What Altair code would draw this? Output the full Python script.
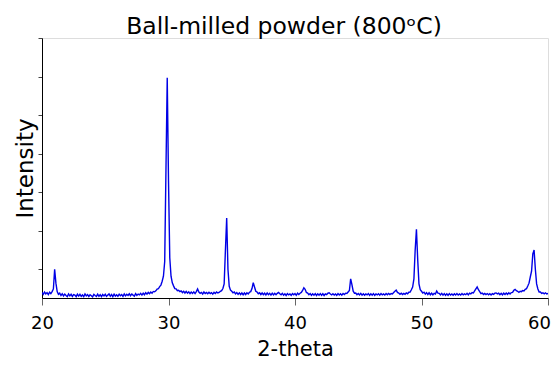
import altair as alt
import pandas as pd

# 2-theta grid start/step (degrees); intensities listed per degree (10 per row)
start_deg = 20.0
step_deg = 0.1

rows = [
    [400, 350, 410, 360, 395, 345, 405, 370, 420, 490],      # 20.x
    [1000, 640, 420, 350, 380, 320, 365, 310, 355, 320],     # 21.x
    [290, 360, 310, 350, 295, 345, 330, 290, 355, 305],      # 22.x
    [350, 300, 335, 290, 360, 310, 345, 295, 340, 315],      # 23.x
    [285, 350, 320, 295, 355, 300, 340, 290, 345, 310],      # 24.x
    [350, 295, 330, 360, 300, 345, 290, 355, 305, 340],      # 25.x
    [300, 355, 315, 345, 295, 360, 310, 350, 320, 365],      # 26.x
    [315, 360, 330, 305, 370, 320, 355, 335, 375, 330],      # 27.x
    [380, 340, 395, 355, 400, 365, 410, 380, 425, 415],      # 28.x
    [440, 485, 495, 550, 590, 690, 820, 1200, 3600, 5970],   # 29.x
    [3300, 1300, 820, 650, 570, 500, 490, 445, 455, 420],    # 30.x
    [440, 395, 430, 385, 425, 380, 415, 370, 410, 375],      # 31.x
    [415, 370, 420, 490, 410, 375, 400, 360, 410, 370],      # 32.x
    [400, 365, 405, 370, 395, 355, 400, 370, 410, 385],      # 33.x
    [400, 430, 445, 500, 620, 1500, 2330, 1000, 560, 460],   # 34.x
    [430, 390, 410, 360, 395, 350, 390, 345, 385, 340],      # 35.x
    [385, 345, 390, 360, 405, 420, 500, 650, 540, 430],      # 36.x
    [410, 365, 390, 345, 385, 340, 380, 335, 385, 340],      # 37.x
    [375, 330, 380, 335, 375, 340, 375, 400, 365, 340],      # 38.x
    [375, 330, 365, 320, 370, 335, 360, 325, 370, 340],      # 39.x
    [370, 325, 380, 345, 380, 400, 450, 520, 480, 400],      # 40.x
    [385, 340, 370, 325, 365, 330, 370, 320, 365, 330],      # 41.x
    [370, 325, 365, 320, 360, 345, 380, 390, 360, 335],      # 42.x
    [365, 330, 360, 325, 370, 335, 365, 330, 370, 345],      # 43.x
    [380, 370, 410, 450, 750, 600, 430, 380, 385, 340],      # 44.x
    [370, 335, 375, 330, 365, 325, 360, 335, 370, 325],      # 45.x
    [365, 330, 370, 325, 360, 335, 365, 330, 370, 335],      # 46.x
    [360, 330, 370, 340, 375, 345, 370, 360, 395, 430],      # 47.x
    [460, 400, 385, 350, 380, 345, 375, 350, 385, 365],      # 48.x
    [405, 410, 470, 540, 750, 1500, 2040, 1250, 620, 470],   # 49.x
    [430, 385, 405, 355, 395, 345, 390, 340, 380, 335],      # 50.x
    [375, 360, 435, 380, 375, 335, 375, 330, 370, 325],      # 51.x
    [365, 325, 370, 330, 360, 325, 365, 335, 370, 330],      # 52.x
    [360, 330, 370, 335, 360, 340, 375, 335, 380, 360],      # 53.x
    [395, 385, 440, 490, 540, 470, 420, 370, 385, 345],      # 54.x
    [375, 345, 370, 340, 365, 335, 370, 350, 380, 385],      # 55.x
    [360, 380, 340, 375, 335, 380, 345, 385, 350, 390],      # 56.x
    [360, 395, 400, 455, 480, 445, 430, 400, 430, 420],      # 57.x
    [450, 440, 480, 495, 565, 640, 800, 950, 1400, 1500],    # 58.x
    [1000, 620, 490, 410, 410, 375, 390, 365, 390, 360],     # 59.x
    [375],                                                   # 60.0
]

x_ticks = [20, 30, 40, 50, 60]
y_ticks = [1000, 2000, 3000, 4000, 5000, 6000, 7000]
y_domain = [255, 7000]

two_theta = []
intensity = []
for r, row in enumerate(rows):
    for c, v in enumerate(row):
        two_theta.append(round(start_deg + r + c * step_deg, 1))
        intensity.append(v)

df = pd.DataFrame({"two_theta": two_theta, "intensity": intensity})

FONT = "DejaVu Sans"
PLOT_H = 260

chart = (
    alt.Chart(df)
    .mark_line(color="#0000e6", strokeWidth=1.4, clip=True)
    .encode(
        x=alt.X(
            "two_theta:Q",
            scale=alt.Scale(domain=[20, 60], nice=False, zero=False),
            axis=alt.Axis(
                values=x_ticks,
                title="2-theta",
                grid=False,
                tickSize=7,
                tickColor="#666666",
                domainColor="#000000",
                labelFontSize=18,
                labelFont=FONT,
                labelColor="#000000",
                labelPadding=9,
                labelFlush=False,
                labelOffset=alt.condition("datum.value == 60", alt.value(-9), alt.value(0)),
                titleFontSize=21,
                titleFont=FONT,
                titleFontWeight="normal",
                titleColor="#000000",
                titleBaseline="alphabetic",
                titleY=57,
            ),
        ),
        y=alt.Y(
            "intensity:Q",
            scale=alt.Scale(domain=y_domain, nice=False, zero=False),
            axis=alt.Axis(
                values=y_ticks,
                labels=False,
                title="Intensity",
                grid=False,
                tickSize=4,
                tickColor="#444444",
                domainColor="#000000",
                titleFontSize=23,
                titleFont=FONT,
                titleFontWeight="normal",
                titleColor="#000000",
                titleBaseline="alphabetic",
                titleAlign="center",
                titleAngle=270,
                titleX=-10,
                titleY=PLOT_H / 2,
            ),
        ),
    )
    .properties(
        width=506,
        height=PLOT_H,
        title=alt.TitleParams(
            text="Ball-milled powder (800ᵒC)",
            font=FONT,
            fontSize=23.5,
            fontWeight="normal",
            color="#000000",
            anchor="middle",
            dx=-11,
            offset=-1,
        ),
        autosize=alt.AutoSizeParams(type="none"),
        padding={"left": 34, "top": 30, "right": 4, "bottom": 62},
    )
    .configure_view(stroke="#444444", strokeWidth=1)
    .configure(background="white")
)

chart.save("out.html", embed_options={"renderer": "svg", "actions": False})
